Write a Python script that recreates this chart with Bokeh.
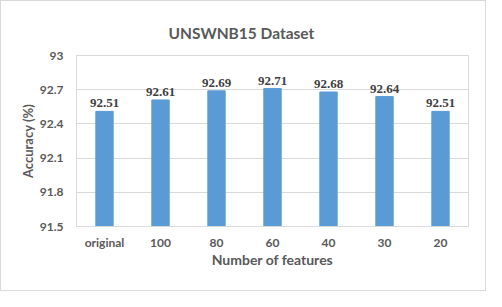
from bokeh.plotting import figure
from bokeh.models import ColumnDataSource, LabelSet, FixedTicker, CustomJSTickFormatter, Range1d
from bokeh.embed import file_html
from bokeh.resources import INLINE

categories = ["original", "100", "80", "60", "40", "30", "20"]
accuracy = [92.51, 92.61, 92.69, 92.71, 92.68, 92.64, 92.51]
labels = ["92.51", "92.61", "92.69", "92.71", "92.68", "92.64", "92.51"]
y_ticks = [91.5, 91.8, 92.1, 92.4, 92.7, 93.0]

FONT = "Lato"
GRAY = "#595959"

src = ColumnDataSource(dict(cat=categories, acc=accuracy, lab=labels))

p = figure(x_range=categories, y_range=Range1d(91.5, 93.0), width=486, height=291,
           output_backend="svg", toolbar_location=None,
           min_border_left=75, min_border_right=19, min_border_top=54, min_border_bottom=66)
p.styles = {"border": "1px solid #D9D9D9"}

p.vbar(x="cat", top="acc", bottom=91.5, width=0.31, color="#5B9BD5", source=src)

p.add_layout(LabelSet(x="cat", y="acc", text="lab", source=src, y_offset=4,
                      text_align="center", text_baseline="bottom",
                      text_font=FONT, text_font_style="bold", text_font_size="13px",
                      text_color="#404040"))

p.title.text = "UNSWNB15 Dataset"
p.title.align = "left"
p.title.offset = 92
p.title.text_font = FONT
p.title.text_font_size = "15.5px"
p.title.text_font_style = "bold"
p.title.text_color = GRAY
p.title.standoff = 28

p.yaxis.ticker = FixedTicker(ticks=y_ticks)
p.yaxis.formatter = CustomJSTickFormatter(code="return Number(tick.toFixed(1)).toString();")
p.yaxis.axis_line_color = None
p.yaxis.major_tick_line_color = None
p.yaxis.minor_tick_line_color = None
p.yaxis.major_label_text_font = FONT
p.yaxis.major_label_text_font_style = "bold"
p.yaxis.major_label_text_font_size = "12px"
p.yaxis.major_label_text_color = GRAY
p.yaxis.major_label_standoff = 7
p.yaxis.axis_label = "Accuracy (%)"
p.yaxis.axis_label_text_font = FONT
p.yaxis.axis_label_text_font_style = "bold"
p.yaxis.axis_label_text_font_size = "13px"
p.yaxis.axis_label_text_color = GRAY
p.yaxis.axis_label_standoff = 1

p.xaxis.axis_line_color = "#D9D9D9"
p.xaxis.major_tick_line_color = None
p.xaxis.minor_tick_line_color = None
p.xaxis.major_label_text_font = FONT
p.xaxis.major_label_text_font_style = "bold"
p.xaxis.major_label_text_font_size = "12px"
p.xaxis.major_label_text_color = GRAY
p.xaxis.major_label_standoff = 2
p.xaxis.axis_label = "Number of features"
p.xaxis.axis_label_text_font = FONT
p.xaxis.axis_label_text_font_style = "bold"
p.xaxis.axis_label_text_font_size = "14px"
p.xaxis.axis_label_text_color = GRAY
p.xaxis.axis_label_standoff = -2

p.xgrid.grid_line_color = None
p.ygrid.grid_line_color = "#D9D9D9"
p.outline_line_color = "#D9D9D9"
p.border_fill_color = "white"
p.background_fill_color = "white"

p.x_range.range_padding = 0.0

open("out.html", "w").write(file_html(p, INLINE))
